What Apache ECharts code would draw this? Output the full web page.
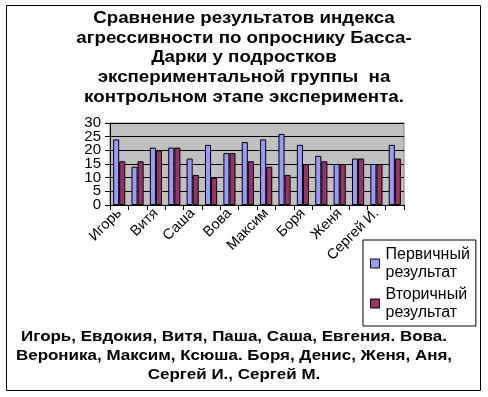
<!DOCTYPE html>
<html>
<head>
<meta charset="utf-8">
<script src="https://cdn.jsdelivr.net/npm/echarts@6/dist/echarts.min.js"></script>
<style>
  html, body { margin: 0; padding: 0; background: #fff; }
  #chart { width: 488px; height: 397px; }
</style>
</head>
<body>
<div id="chart"></div>
<script>
// данные диаграммы
const names = ['Игорь', 'Евдокия', 'Витя', 'Паша', 'Саша', 'Евгения', 'Вова', 'Вероника',
  'Максим', 'Ксюша', 'Боря', 'Денис', 'Женя', 'Аня', 'Сергей И.', 'Сергей М.'];
const primary = [24, 14, 21, 21, 17, 22, 19, 23, 24, 26, 22, 18, 15, 17, 15, 22];
const secondary = [16, 16, 20, 21, 11, 10, 19, 16, 14, 11, 15, 16, 15, 17, 15, 17];
const seriesNames = ['Первичный результат', 'Вторичный результат'];

const titleText = 'Сравнение результатов индекса\nагрессивности по опроснику Басса-\nДарки у подростков\nэкспериментальной группы  на\nконтрольном этапе эксперимента.';
const footerText = 'Игорь, Евдокия, Витя, Паша, Саша, Евгения. Вова.\nВероника, Максим, Ксюша. Боря, Денис, Женя, Аня,\nСергей И., Сергей М.';

const font = 'Arial, "Liberation Sans", sans-serif';
const chart = echarts.init(document.getElementById('chart'));

// метки оси Y стоят плотно, ECharts прячет соседние с 0 и 30,
// поэтому делим их на две оси: 0/10/20/30 и 5/15/25
const yBase = {
  type: 'value',
  min: 0,
  max: 30,
  interval: 5,
  position: 'left'
};
const yLabel = fn => ({
  color: '#000',
  fontFamily: font,
  fontSize: 15,
  margin: 9,
  showMinLabel: true,
  showMaxLabel: true,
  formatter: v => (fn(v) ? String(v) : '')
});

const option = {
  backgroundColor: '#fff',
  animation: false,
  textStyle: { fontFamily: font },
  graphic: [
    {
      type: 'rect',
      shape: { x: 6.5, y: 5.5, width: 474, height: 385 },
      style: { fill: 'none', stroke: '#000', lineWidth: 1 }
    },
    {
      // заголовок, растянут по горизонтали как в исходнике
      type: 'text',
      x: 244,
      y: 9,
      scaleX: 1.17,
      style: {
        text: titleText,
        fontFamily: font,
        fontSize: 16,
        fontWeight: 'bold',
        lineHeight: 19.6,
        align: 'center',
        verticalAlign: 'top',
        fill: '#000'
      }
    },
    {
      type: 'text',
      x: 234,
      y: 327,
      scaleX: 1.17,
      style: {
        text: footerText,
        fontFamily: font,
        fontSize: 14.5,
        fontWeight: 'bold',
        lineHeight: 19,
        align: 'center',
        verticalAlign: 'top',
        fill: '#000'
      }
    }
  ],
  legend: {
    orient: 'vertical',
    left: 363,
    top: 240,
    padding: [6, 6, 5, 7],
    itemGap: 5,
    itemWidth: 9,
    itemHeight: 9,
    icon: 'rect',
    borderColor: '#000',
    borderWidth: 1,
    backgroundColor: '#fff',
    data: seriesNames,
    formatter: n => n.replace(' ', '\n'),
    textStyle: { fontSize: 16, lineHeight: 17.5, color: '#000', fontFamily: font, padding: [0, 0, 0, 1] },
    itemStyle: { borderColor: '#000', borderWidth: 1 }
  },
  grid: {
    left: 110,
    top: 123,
    width: 294,
    height: 82,
    show: true,
    backgroundColor: '#C0C0C0',
    borderColor: '#808080',
    borderWidth: 1
  },
  xAxis: {
    type: 'category',
    data: names,
    axisLine: { lineStyle: { color: '#000' } },
    axisTick: { show: true, length: 5, lineStyle: { color: '#000' }, interval: 0 },
    axisLabel: {
      interval: 1,
      rotate: 45,
      fontSize: 14.5,
      color: '#000',
      fontFamily: font,
      margin: 6
    }
  },
  yAxis: [
    {
      ...yBase,
      axisLine: { show: true, lineStyle: { color: '#000' } },
      axisTick: { show: true, length: 5, lineStyle: { color: '#000' } },
      splitLine: { show: true, lineStyle: { color: '#000', width: 1 } },
      axisLabel: yLabel(v => v % 10 === 0)
    },
    {
      ...yBase,
      axisLine: { show: false },
      axisTick: { show: false },
      splitLine: { show: false },
      axisLabel: yLabel(v => v % 10 === 5)
    }
  ],
  series: [
    {
      name: seriesNames[0],
      type: 'bar',
      data: primary,
      barGap: '0%',
      barCategoryGap: '34%',
      itemStyle: { color: '#9999FF', borderColor: '#000', borderWidth: 1 }
    },
    {
      name: seriesNames[1],
      type: 'bar',
      data: secondary,
      itemStyle: { color: '#993366', borderColor: '#000', borderWidth: 1 }
    }
  ]
};

chart.setOption(option);
window.addEventListener('resize', () => chart.resize());
</script>
</body>
</html>
